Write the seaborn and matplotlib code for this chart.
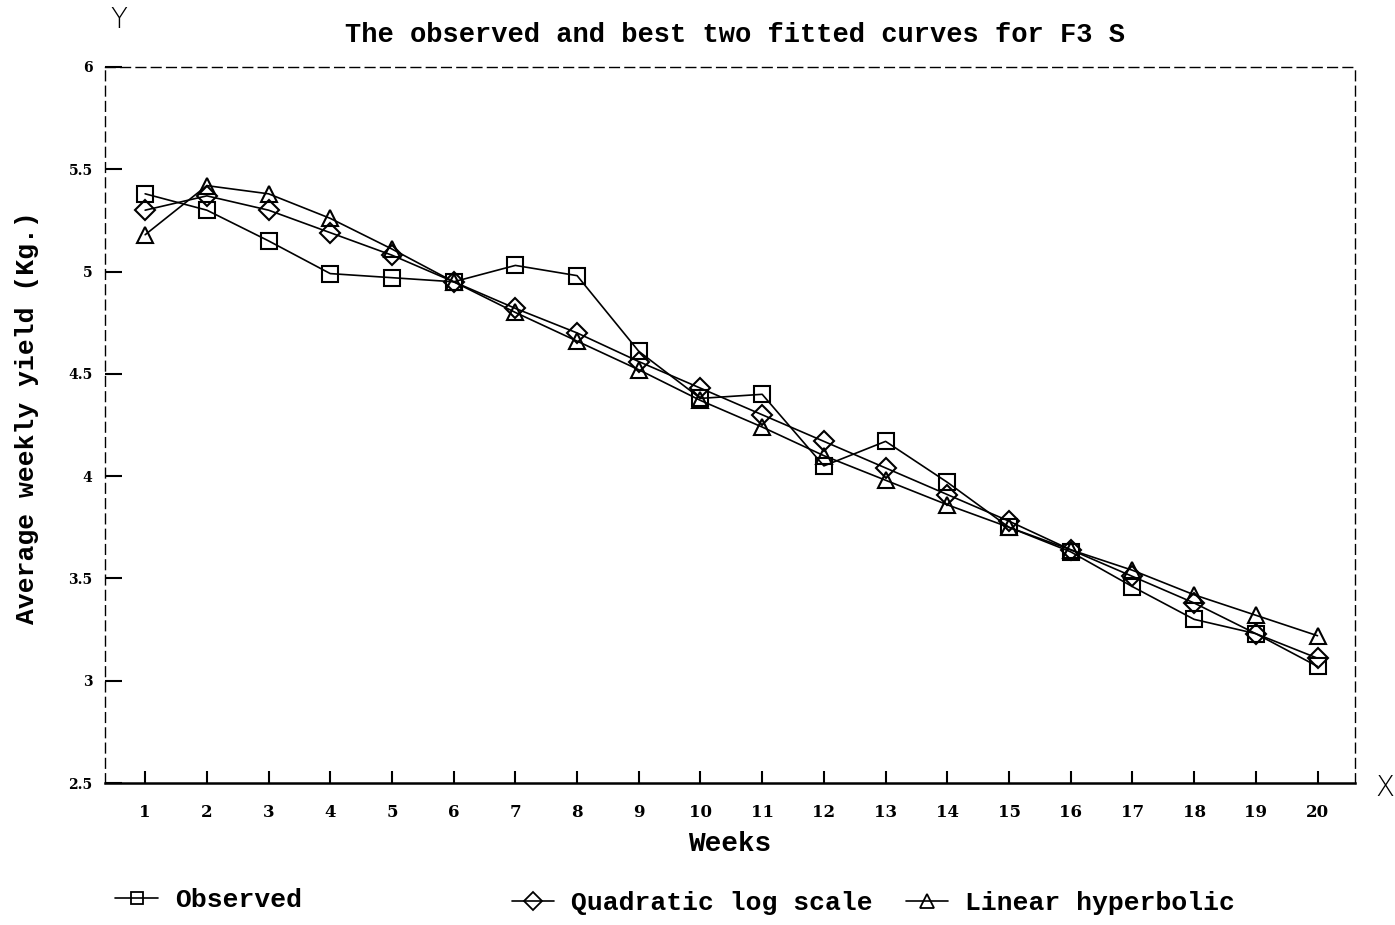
import matplotlib
matplotlib.use("Agg")
import matplotlib.pyplot as plt
import seaborn as sns
import pandas as pd
from matplotlib.lines import Line2D

weeks = list(range(1, 21))
observed = [5.38, 5.30, 5.15, 4.99, 4.97, 4.95, 5.03, 4.98, 4.61, 4.38,
            4.40, 4.05, 4.17, 3.97, 3.75, 3.63, 3.46, 3.30, 3.23, 3.07]
quadratic = [5.30, 5.37, 5.30, 5.19, 5.08, 4.95, 4.82, 4.70, 4.56, 4.43,
             4.30, 4.17, 4.04, 3.91, 3.78, 3.64, 3.51, 3.38, 3.23, 3.11]
linear_hyp = [5.18, 5.42, 5.38, 5.26, 5.11, 4.95, 4.80, 4.66, 4.52, 4.37,
              4.24, 4.10, 3.98, 3.86, 3.75, 3.64, 3.54, 3.42, 3.32, 3.22]
series_names = ["Observed", "Quadratic log scale", "Linear hyperbolic"]
y_ticks = [2.5, 3, 3.5, 4, 4.5, 5, 5.5, 6]
y_tick_labels = ["2.5", "3", "3.5", "4", "4.5", "5", "5.5", "6"]

df = pd.DataFrame({
    "week": weeks * 3,
    "value": observed + quadratic + linear_hyp,
    "series": sum([[n] * len(weeks) for n in series_names], []),
})

sns.set_style("white")
plt.rcParams["font.family"] = ["Liberation Mono", "DejaVu Sans Mono"]
plt.rcParams["text.color"] = "black"
plt.rcParams["axes.labelcolor"] = "black"
plt.rcParams["xtick.color"] = "black"
plt.rcParams["ytick.color"] = "black"

fig = plt.figure(figsize=(13.95, 9.25), dpi=100)
ax = fig.add_axes([0.0753, 0.1535, 0.8957, 0.7741])

markers = {"Observed": "s", "Quadratic log scale": "D", "Linear hyperbolic": "^"}
msizes = {"Observed": 11, "Quadratic log scale": 10, "Linear hyperbolic": 12}
for name in series_names:
    sub = df[df["series"] == name]
    sns.lineplot(data=sub, x="week", y="value", ax=ax, color="black",
                 linewidth=1.2, marker=markers[name], markersize=msizes[name],
                 markerfacecolor="none", markeredgecolor="black",
                 markeredgewidth=1.5, legend=False)

ax.set_xlim(0.35, 20.6)
ax.set_ylim(2.5, 6)
ax.set_xticks(weeks)
ax.set_xticklabels([str(w) for w in weeks], fontsize=12, fontweight="bold",
                   family="DejaVu Serif")
ax.set_yticks(y_ticks)
ax.set_yticklabels(y_tick_labels, fontsize=10, fontweight="bold", family="DejaVu Serif")
ax.tick_params(axis="x", direction="in", length=9, width=1.5, pad=15, bottom=True)
ax.tick_params(axis="y", direction="in", length=12, width=1.5, pad=9, left=True)

for side in ["top", "left", "right"]:
    ax.spines[side].set_linestyle((0, (7, 4)))
    ax.spines[side].set_linewidth(1.0)
    ax.spines[side].set_color("black")
ax.spines["bottom"].set_linewidth(1.8)
ax.spines["bottom"].set_color("black")

ax.set_xlabel("Weeks", fontsize=20, fontweight="bold", labelpad=7)
ax.set_ylabel("Average weekly yield (Kg.)", fontsize=19, fontweight="bold")
ax.yaxis.set_label_coords(-0.053, 0.51)
fig.text(0.527, 0.962, "The observed and best two fitted curves for F3 S",
         fontsize=19.5, fontweight="bold", ha="center", va="center")
fig.text(0.085, 0.978, "Y", fontsize=20, ha="center", va="center",
         family="DejaVu Sans", fontweight="light")
fig.text(0.993, 0.148, "X", fontsize=20, ha="center", va="center",
         family="DejaVu Sans", fontweight="light")

def handle(m, ms):
    return Line2D([0], [0], color="black", linewidth=1.2, marker=m, markersize=ms,
                  markerfacecolor="none", markeredgecolor="black", markeredgewidth=1.3)

legend_font = {"family": "Liberation Mono", "weight": "bold", "size": 19}
leg1 = fig.legend([handle("s", 9)], ["Observed"], loc="center left",
                  bbox_to_anchor=(0.0657, 0.027), frameon=False, prop=legend_font,
                  handlelength=1.6, handletextpad=0.65)
leg2 = fig.legend([handle("D", 9), handle("^", 10)],
                  ["Quadratic log scale", "Linear hyperbolic"], loc="center left",
                  bbox_to_anchor=(0.35, 0.024), frameon=False, prop=legend_font, ncol=2,
                  handlelength=1.6, handletextpad=0.65, columnspacing=1.25)

fig.savefig("out.png", dpi=100, facecolor="white")
